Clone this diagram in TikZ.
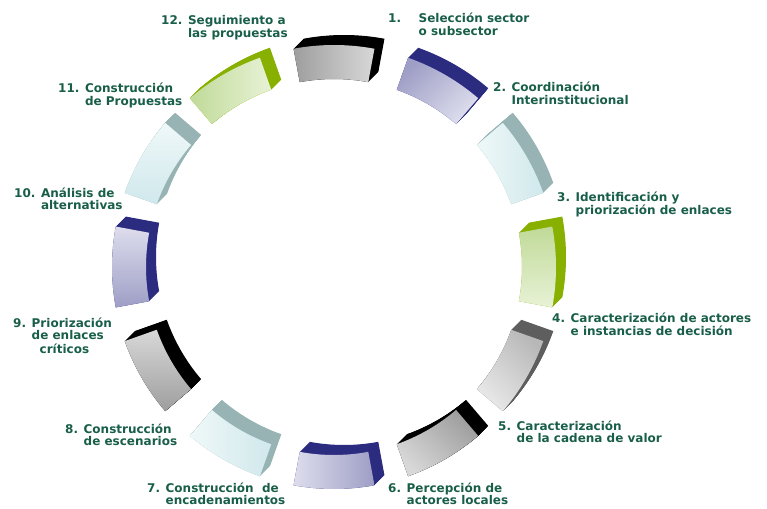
\documentclass[tikz,border=0pt]{standalone}
\usepackage{fontspec}
\setmainfont{DejaVu Sans}
\usepackage{tikz}
\usetikzlibrary{positioning}

\definecolor{labelgreen}{RGB}{24,94,72}
\definecolor{grayL}{HTML}{D8D8D8}
\definecolor{grayD}{HTML}{9E9E9E}
\definecolor{paleL}{HTML}{E8E8E8}
\definecolor{paleD}{HTML}{B8B8B8}
\definecolor{paleS}{HTML}{5E5E5E}
\definecolor{blueL}{HTML}{DDDDED}
\definecolor{blueD}{HTML}{9E9EC6}
\definecolor{blueS}{HTML}{2B2B80}
\definecolor{cyanL}{HTML}{EFF8F8}
\definecolor{cyanD}{HTML}{D0E8EC}
\definecolor{cyanS}{HTML}{97B3B3}
\definecolor{greenL}{HTML}{E8F2D6}
\definecolor{greenD}{HTML}{C0DA98}
\definecolor{greenS}{HTML}{88B000}

% one piece of the ring, angle measured clockwise from the right
\newcommand{\segpath}[1]{(#1-10.5:222) arc[start angle=#1-10.5, end angle=#1+10.5, radius=222] -- (#1+10.5:188) arc[start angle=#1+10.5, end angle=#1-10.5, radius=188] -- cycle}
\newcommand{\ringseg}[5]{%
  \begin{scope}[shift={(334,267)}]
    \foreach \t in {0,0.5,...,10}
      \fill[#4, shift={(\t,-\t)}] \segpath{#1};
    \shade[top color=#2, bottom color=#3, shading angle=#5] \segpath{#1};
  \end{scope}}

\begin{document}
\begin{tikzpicture}[
        x=1pt, y=-1pt,
        lbl/.style={anchor=base west, inner sep=0pt, text=labelgreen, font=\bfseries\fontsize{12}{12.5}\selectfont}
    ]
    \useasboundingbox (0,0) rectangle (767,508);

    % Ring segments
    \ringseg{270}{grayL}{grayD}{black}{-90}
    \ringseg{300}{blueL}{blueD}{blueS}{-135}
    \ringseg{330}{cyanL}{cyanD}{cyanS}{90}
    \ringseg{0}{greenL}{greenD}{greenS}{180}
    \ringseg{30}{paleL}{paleD}{paleS}{135}
    \ringseg{60}{grayL}{grayD}{black}{135}
    \ringseg{90}{blueL}{blueD}{blueS}{90}
    \ringseg{120}{cyanL}{cyanD}{cyanS}{90}
    \ringseg{150}{grayL}{grayD}{black}{0}
    \ringseg{180}{blueL}{blueD}{blueS}{0}
    \ringseg{210}{cyanL}{cyanD}{cyanS}{0}
    \ringseg{240}{greenL}{greenD}{greenS}{-90}

    % Labels
    \node[lbl] (seguimiento) at (161,25) {\begin{tabular}[t]{@{}r@{ }l@{}}12. & Seguimiento a\\ & las propuestas\end{tabular}};
    \node[lbl] (seleccion) at (388,23) {\begin{tabular}[t]{@{}r@{ }l@{}}1.\hspace{12pt} & Selección sector\\ & o subsector\end{tabular}};
    \node[lbl] (coordinacion) at (493,92) {\begin{tabular}[t]{@{}r@{ }l@{}}2. & Coordinación\\ & Interinstitucional\end{tabular}};
    \node[lbl] (identificacion) at (557,201) {\begin{tabular}[t]{@{}r@{ }l@{}}3. & Identificación y\\ & priorización de enlaces\end{tabular}};
    \node[lbl] (actores) at (552,322) {\begin{tabular}[t]{@{}r@{ }l@{}}4. & Caracterización de actores\\ & e instancias de decisión\end{tabular}};
    \node[lbl] (cadena) at (498,430) {\begin{tabular}[t]{@{}r@{ }l@{}}5. & Caracterización\\ & de la cadena de valor\end{tabular}};
    \node[lbl] (percepcion) at (388,492) {\begin{tabular}[t]{@{}r@{ }l@{}}6. & Percepción de\\ & actores locales\end{tabular}};
    \node[lbl] (encadenamientos) at (147,492) {\begin{tabular}[t]{@{}r@{ }l@{}}7. & Construcción\ \ de\\ & encadenamientos\end{tabular}};
    \node[lbl] (escenarios) at (65,433) {\begin{tabular}[t]{@{}r@{ }l@{}}8. & Construcción\\ & de escenarios\end{tabular}};
    \node[lbl] (priorizacion) at (13,327) {\begin{tabular}[t]{@{}r@{ }l@{}}9. & Priorización\\ & de enlaces\\ & \hspace{8pt}críticos\end{tabular}};
    \node[lbl] (alternativas) at (14,197) {\begin{tabular}[t]{@{}r@{ }l@{}}10. & Análisis de\\ & alternativas\end{tabular}};
    \node[lbl] (propuestas) at (58,93) {\begin{tabular}[t]{@{}r@{ }l@{}}11. & Construcción\\ & de Propuestas\end{tabular}};

\end{tikzpicture}
\end{document}
